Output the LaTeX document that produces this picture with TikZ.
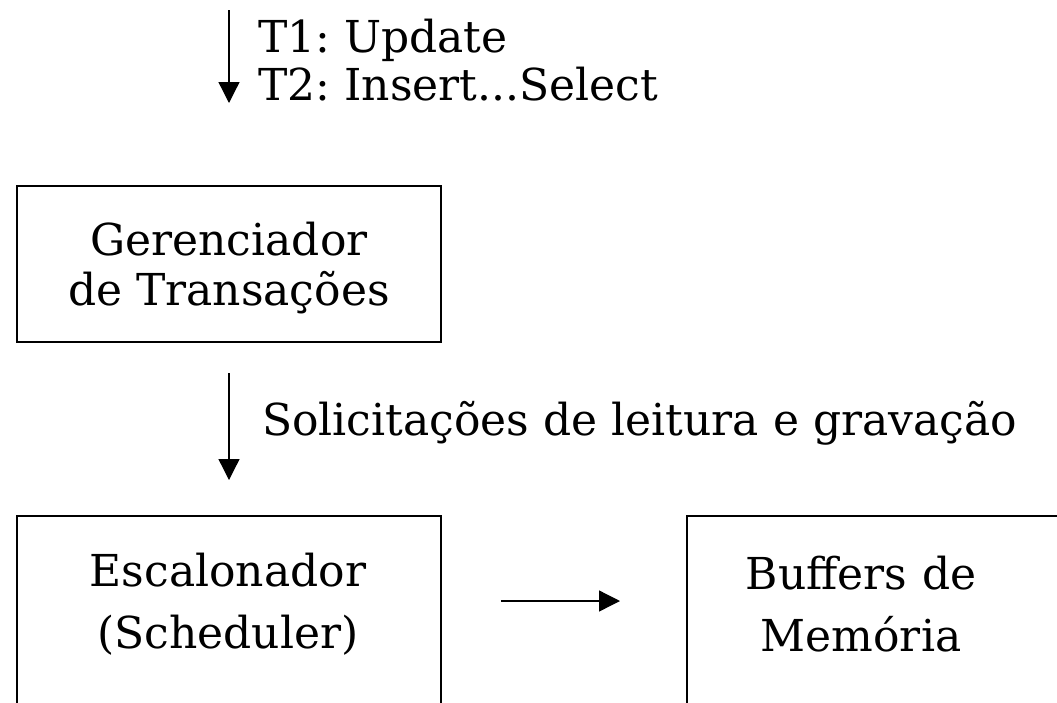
\documentclass[tikz,border=0pt]{standalone}
\usepackage{fontspec}
\setmainfont{DejaVu Serif}
\usetikzlibrary{arrows.meta}
\frenchspacing

\tikzset{
  caixa/.style={draw, line width=1.8pt, minimum width=424pt, inner sep=0pt},
  texto/.style={align=center, inner sep=0pt},
  rotulo/.style={anchor=base west, inner sep=0pt},
  seta/.style={line width=1.3pt, -{Triangle[length=21pt,width=21pt]}}
}

\begin{document}
\begin{tikzpicture}[x=1pt,y=-1pt,font=\fontsize{44}{50}\selectfont]
\useasboundingbox (0,0) rectangle (1057,702);
\clip (0,0) rectangle (1057,702);

% entrada das transacoes
\coordinate (inicio) at (229,10);
\coordinate (fim) at (229,103);
\draw [seta] (inicio) -- (fim);
\node [rotulo] (t1) at (258,52) {T1: Update};
\node [rotulo] (t2) at (258,100) {T2: Insert...Select};

% gerenciador
\node [caixa, minimum height=156pt, anchor=north west] (gerente) at (16,185) {};
\node [texto] (gerentetxt) at ([yshift=-4pt]gerente.center) {Gerenciador\\de Transações};

% solicitacoes
\coordinate (saida) at (229,373);
\coordinate (chegada) at (229,480);
\draw [seta] (saida) -- (chegada);
\node [rotulo] (pedidos) at (262,435) {Solicitações de leitura e gravação};

% escalonador e buffers
\node [caixa, minimum height=260pt, anchor=north west] (escal) at (16,515) {};
\node [texto, text width=424pt, font=\fontsize{44}{62}\selectfont] (escaltxt) at (228,604) {Escalonador\\(Scheduler)};
\node [caixa, minimum height=260pt, anchor=north west] (buffer) at (686,515) {};
\node [texto, text width=354pt, font=\fontsize{44}{62}\selectfont] (buffertxt) at (861,604) {Buffers de\\Memória};
\draw [seta, shorten <=59pt, shorten >=66pt] (escal.east |- 0,601) -- (buffer.west |- 0,601);
\end{tikzpicture}
\end{document}
